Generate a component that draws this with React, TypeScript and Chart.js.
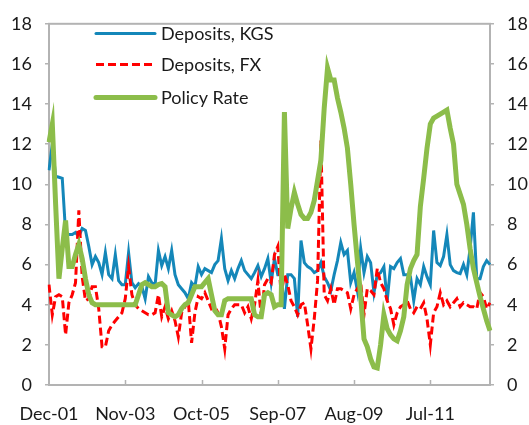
import React, { useEffect, useRef } from "react";
import { Chart, registerables } from "chart.js";

Chart.register(...registerables);

const MONTHS = ["Jan", "Feb", "Mar", "Apr", "May", "Jun", "Jul", "Aug", "Sep", "Oct", "Nov", "Dec"];
// Monthly categories, Dec-01 .. Jan-13
const START_YEAR = 2001;
const START_MONTH = 11; // December
const N_POINTS = 134;
const categories: string[] = [];
for (let i = 0; i < N_POINTS; i++) {
  const m = (START_MONTH + i) % 12;
  const y = START_YEAR + Math.floor((START_MONTH + i) / 12);
  categories.push(`${MONTHS[m]}-${String(y % 100).padStart(2, "0")}`);
}
const LABEL_EVERY = 23;

const yTicks = [0, 2, 4, 6, 8, 10, 12, 14, 16, 18];

const depositsKGS = [
  10.7, 12.0, 10.4, 10.35, 10.3, 7.6, 7.5, 7.5, 7.6, 7.4,
  7.8, 7.7, 6.9, 6.0, 6.4, 6.1, 5.5, 6.6, 5.5, 5.3,
  6.5, 5.2, 5.0, 5.0, 6.6, 5.1, 4.85, 5.05, 4.9, 4.3,
  5.4, 5.1, 5.0, 6.7, 5.95, 6.4, 5.8, 6.7, 5.5, 5.0,
  4.8, 4.6, 4.3, 5.1, 4.9, 5.9, 5.5, 5.8, 5.7, 5.6,
  6.0, 6.2, 7.3, 5.8, 5.2, 5.7, 5.3, 5.8, 6.2, 5.7,
  5.5, 5.3, 5.6, 5.95, 5.4, 5.8, 6.3, 5.1, 6.3, 5.5,
  5.5, 3.8, 5.5, 5.5, 5.3, 3.4, 7.2, 6.1, 5.9, 5.8,
  5.6, 5.7, 6.1, 5.4, 5.1, 4.7, 5.5, 6.2, 7.1, 6.5,
  6.7, 5.1, 5.6, 4.7, 6.8, 5.6, 6.4, 6.1, 4.6, 5.5,
  5.6, 5.9, 4.2, 5.9, 5.8, 6.1, 6.3, 5.5, 5.5, 5.4,
  4.2, 5.3, 5.0, 5.9, 5.4, 5.0, 7.7, 6.1, 5.95, 6.4,
  7.5, 6.0, 5.7, 5.6, 5.55, 6.0, 5.5, 6.8, 8.6, 5.3,
  5.3, 5.9, 6.2, 6.0,
];

const depositsFX = [
  5.0, 3.5, 4.4, 4.5, 4.4, 2.5, 4.1, 4.5, 5.1, 8.7,
  5.4, 4.2, 4.3, 4.9, 4.9, 3.8, 1.9, 1.9, 2.7, 3.0,
  3.2, 3.4, 3.6, 4.3, 5.9, 4.5, 4.0, 3.8, 3.7, 3.6,
  3.5, 3.5, 3.6, 4.5, 3.4, 3.9, 3.3, 3.7, 3.2, 2.4,
  3.6, 3.9, 4.2, 2.1, 3.6, 4.4, 4.3, 4.6, 4.2, 3.8,
  3.9, 3.6, 2.9, 1.8, 3.5, 3.8, 4.0, 4.0, 4.0, 3.6,
  3.9, 3.3, 4.0, 5.2, 3.4, 5.0, 5.3, 5.1, 6.5, 6.9,
  4.5, 5.5, 5.0, 4.2, 3.9, 3.5, 4.0, 4.1, 3.0, 1.8,
  3.3, 5.2, 12.2, 4.5, 4.2, 4.8, 4.0, 4.8, 4.8, 4.7,
  4.6, 3.8, 4.5, 4.8, 5.1, 3.5, 4.8, 4.7, 4.5, 5.8,
  5.1, 4.8, 4.2, 3.8, 3.0, 3.6, 3.9, 4.0, 4.2, 3.8,
  3.6, 3.9, 3.8, 4.1, 3.3, 2.0, 3.6, 3.9, 4.6, 4.0,
  4.2, 3.9, 4.1, 4.3, 3.9, 4.1, 4.0, 3.9, 3.9, 3.8,
  4.6, 4.4, 3.8, 4.1,
];

const policyRate = [
  12.1, 13.0, 9.0, 5.3, 6.8, 8.2, 5.9, 5.9, 6.5, 7.0,
  6.3, 5.3, 4.5, 4.1, 4.0, 4.0, 4.0, 4.0, 4.0, 4.0,
  4.0, 4.0, 4.0, 4.0, 4.0, 4.0, 4.0, 4.5, 5.0, 5.1,
  5.0, 4.9, 4.9, 5.0, 5.05, 4.9, 3.6, 3.5, 3.4, 3.5,
  3.8, 4.0, 4.1, 4.5, 4.9, 4.9, 4.9, 5.1, 5.3, 4.5,
  3.7, 3.5, 3.5, 4.2, 4.3, 4.3, 4.3, 4.3, 4.3, 4.3,
  4.3, 4.3, 3.5, 3.4, 3.4, 4.5, 4.6, 4.5, 3.9, 4.0,
  4.0, 13.6, 7.8, 8.8, 9.6, 9.0, 8.5, 8.3, 8.3, 8.6,
  9.2, 10.2, 11.2, 13.8, 15.8, 15.2, 15.2, 14.3, 13.6, 12.8,
  11.8, 10.0, 8.0, 6.2, 4.4, 2.3, 1.9, 1.3, 0.9, 0.85,
  2.0, 3.5, 2.8, 2.5, 2.3, 2.2, 2.7, 3.4, 5.0, 5.8,
  6.2, 6.5, 8.9, 10.3, 11.8, 13.0, 13.3, 13.4, 13.5, 13.6,
  13.7, 12.8, 12.0, 10.0, 9.5, 9.0, 8.0, 6.8, 5.8, 5.1,
  4.4, 3.8, 3.2, 2.7,
];

const seriesNames = ["Deposits, KGS", "Deposits, FX", "Policy Rate"];

const BLUE = "#1487b9";
const RED = "#ff0000";
const GREEN = "#8cbd4a";
const AXIS = "#b3b3b3";
const FONT_FAMILY = "Lato, 'Open Sans', sans-serif";
const FONT_SIZE = 18;

const framePlugin = {
  id: "frame",
  beforeDatasetsDraw(chart: any) {
    const { ctx, chartArea } = chart;
    const xs = chart.scales.x;
    ctx.save();
    ctx.strokeStyle = AXIS;
    ctx.lineWidth = 2;
    ctx.strokeRect(chartArea.left, chartArea.top, chartArea.right - chartArea.left, chartArea.bottom - chartArea.top);
    ctx.lineWidth = 1.5;
    for (let i = 0; i < categories.length; i += LABEL_EVERY) {
      if (i === 0) continue;
      const px = Math.round(xs.getPixelForValue(i)) + 0.5;
      ctx.beginPath();
      ctx.moveTo(px, chartArea.bottom);
      ctx.lineTo(px, chartArea.bottom - 5);
      ctx.stroke();
    }
    ctx.restore();
  },
};

const legendPlugin = {
  id: "customLegend",
  afterDraw(chart: any) {
    const { ctx } = chart;
    const items = [
      { name: seriesNames[0], color: BLUE, width: 3, dash: [] as number[], y: 33.5 },
      { name: seriesNames[1], color: RED, width: 3, dash: [8, 4], y: 64.5 },
      { name: seriesNames[2], color: GREEN, width: 5, dash: [] as number[], y: 97.5 },
    ];
    ctx.save();
    for (const it of items) {
      ctx.beginPath();
      ctx.setLineDash(it.dash);
      ctx.strokeStyle = it.color;
      ctx.lineWidth = it.width;
      ctx.lineCap = it.dash.length ? "butt" : "round";
      ctx.moveTo(96, it.y);
      ctx.lineTo(155, it.y);
      ctx.stroke();
      ctx.setLineDash([]);
      ctx.fillStyle = "#1a1a1a";
      ctx.font = `${FONT_SIZE}px ${FONT_FAMILY}`;
      ctx.textBaseline = "middle";
      ctx.textAlign = "left";
      ctx.fillText(it.name, 161, it.y + 1);
    }
    ctx.restore();
  },
};

export default function App() {
  const canvasRef = useRef<HTMLCanvasElement | null>(null);

  useEffect(() => {
    if (!canvasRef.current) return;
    const tickFont = { family: FONT_FAMILY, size: FONT_SIZE };
    const yScale = (position: "left" | "right", width: number) => ({
      position,
      min: 0,
      max: 18,
      afterBuildTicks: (scale: any) => {
        scale.ticks = yTicks.map((v) => ({ value: v }));
      },
      afterFit: (scale: any) => {
        scale.width = width;
      },
      ticks: { font: tickFont, color: "#1a1a1a", padding: 13 },
      grid: { drawOnChartArea: false, drawTicks: true, tickLength: 4, color: AXIS, lineWidth: 1.5 },
      border: { display: false },
    });
    const chart = new Chart(canvasRef.current, {
      type: "line",
      data: {
        labels: categories,
        datasets: [
          {
            label: seriesNames[0],
            data: depositsKGS,
            borderColor: BLUE,
            borderWidth: 3,
            pointRadius: 0,
            tension: 0,
            order: 2,
            yAxisID: "y",
          },
          {
            label: seriesNames[1],
            data: depositsFX,
            borderColor: RED,
            borderWidth: 3,
            borderDash: [8, 4],
            pointRadius: 0,
            tension: 0,
            order: 1,
            yAxisID: "y",
          },
          {
            label: seriesNames[2],
            data: policyRate,
            borderColor: GREEN,
            borderWidth: 5,
            pointRadius: 0,
            tension: 0,
            order: 0,
            yAxisID: "y",
          },
        ],
      },
      options: {
        animation: false,
        responsive: false,
        devicePixelRatio: 1,
        layout: { padding: { top: 17, left: 0, right: 0, bottom: 0 } },
        plugins: { legend: { display: false }, tooltip: { enabled: false } },
        scales: {
          x: {
            type: "category",
            offset: false,
            grid: { display: false },
            border: { display: false },
            afterFit: (scale: any) => {
              scale.height = 40;
            },
            ticks: {
              autoSkip: false,
              maxRotation: 0,
              minRotation: 0,
              padding: 10,
              font: tickFont,
              color: "#1a1a1a",
              callback: (_v: any, index: number) => (index % LABEL_EVERY === 0 ? categories[index] : null),
            },
          },
          y: yScale("left", 49),
          y2: yScale("right", 39),
        },
      },
      plugins: [framePlugin, legendPlugin],
    });
    return () => chart.destroy();
  }, []);

  return (
    <div style={{ position: "fixed", left: 0, top: 0, width: 529, height: 425, background: "#fff" }}>
      <canvas ref={canvasRef} width={529} height={425} />
    </div>
  );
}
